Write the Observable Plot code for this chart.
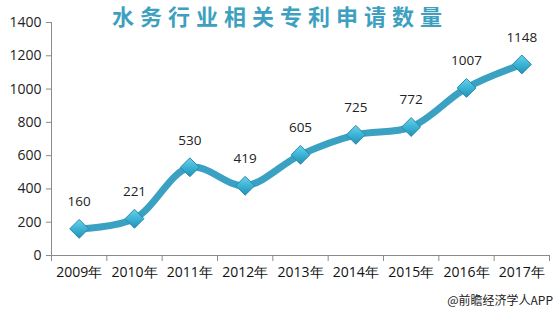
<!DOCTYPE html>
<html>
<head>
<meta charset="utf-8">
<script src="https://cdn.jsdelivr.net/npm/d3@7"></script>
<script src="https://cdn.jsdelivr.net/npm/@observablehq/plot@0.6"></script>
<style>
  html, body { margin: 0; padding: 0; background: #fff; }
  #wrap { position: relative; width: 560px; height: 312px; overflow: hidden; }
  #title {
    position: absolute; left: 0; top: 1px; width: 560px; text-align: center;
    font-family: "Noto Sans CJK SC", sans-serif; font-weight: 700; font-size: 22px;
    letter-spacing: 6px; color: #3e9fc0; line-height: 28px;
  }
  #caption {
    position: absolute; right: 7px; top: 291px;
    font-family: "Noto Sans CJK SC", sans-serif; font-size: 12px; color: #222; line-height: 18px;
  }
</style>
</head>
<body>
<div id="wrap">
  <div id="chart"></div>
  <div id="title">水务行业相关专利申请数量</div>
  <div id="caption">@前瞻经济学人APP</div>
</div>
<script>
const years = [2009, 2010, 2011, 2012, 2013, 2014, 2015, 2016, 2017];
const yearLabels = ["2009年", "2010年", "2011年", "2012年", "2013年", "2014年", "2015年", "2016年", "2017年"];
const values = [160, 221, 530, 419, 605, 725, 772, 1007, 1148];
const yTicks = [0, 200, 400, 600, 800, 1000, 1200, 1400];

const data = years.map((y, i) => ({year: y, value: values[i]}));
const boundaries = d3.range(years[0] - 0.5, years[years.length - 1] + 1, 1);

const chart = Plot.plot({
  width: 560,
  height: 312,
  marginTop: 22,
  marginBottom: 57,
  marginLeft: 51,
  marginRight: 11,
  style: {fontFamily: "'Open Sans', sans-serif", background: "transparent"},
  x: {type: "linear", domain: [years[0] - 0.5, years[years.length - 1] + 0.5]},
  y: {domain: [0, 1400]},
  marks: [
    Plot.axisY({ticks: yTicks, tickSize: 5, tickPadding: 5, tickFormat: d => String(d), label: null,
      fontSize: 14, fill: "#222", stroke: "#8a8a8a"}),
    Plot.ruleX([years[0] - 0.5], {stroke: "#8a8a8a"}),
    Plot.ruleY([0], {stroke: "#8a8a8a"}),
    Plot.axisX({ticks: boundaries, tickSize: 6, tickFormat: () => "", label: null, stroke: "#8a8a8a"}),
    Plot.axisX({ticks: years, tickSize: 0, tickPadding: 12, tickFormat: d => yearLabels[years.indexOf(d)],
      label: null, fontSize: 14, fill: "#111"}),
    Plot.line(data, {x: "year", y: "value", curve: "catmull-rom", stroke: "#3aa1c2", strokeWidth: 7}),
    Plot.dot(data, {x: "year", y: "value", symbol: "diamond2", r: 8.5, fill: "url(#dgrad)", stroke: "#2a8aab", strokeWidth: 1}),
    Plot.text(data, {x: "year", y: "value", text: d => String(d.value), dy: -27, fontSize: 13.5, fill: "#222"})
  ]
});

d3.select(chart).insert("defs", ":first-child").html(
  '<linearGradient id="dgrad" x1="0" y1="0" x2="0" y2="1">' +
  '<stop offset="0" stop-color="#6fd0ea"/><stop offset="0.5" stop-color="#3ab4d6"/><stop offset="1" stop-color="#2590b2"/>' +
  '</linearGradient>');

document.getElementById("chart").appendChild(chart);
</script>
</body>
</html>
